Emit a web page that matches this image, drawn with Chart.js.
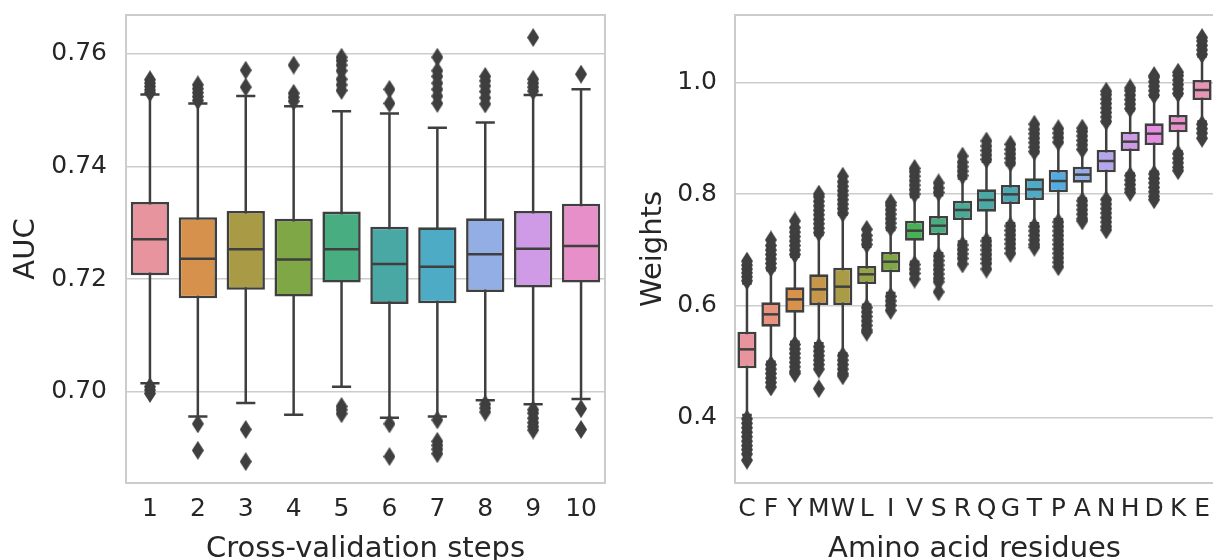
<!DOCTYPE html>
<html>
<head>
<meta charset="utf-8">
<title>AUC and residue weights</title>
<script src="https://cdn.jsdelivr.net/npm/chart.js@4.4.1/dist/chart.umd.min.js"></script>
<style>
  html, body { margin: 0; padding: 0; background: #fff; width: 1213px; height: 560px; overflow: hidden; }
  canvas { position: absolute; top: 0; }
  #aucChart { left: 0; }
  #weightChart { left: 620px; }
</style>
</head>
<body>
<canvas id="aucChart" width="620" height="560"></canvas>
<canvas id="weightChart" width="620" height="560"></canvas>
<script>
// ---- cross-validation AUC ----
const cvSteps = ['1', '2', '3', '4', '5', '6', '7', '8', '9', '10'];
const aucQ1     = [0.7207, 0.7166, 0.7181, 0.7169, 0.7194, 0.7156, 0.7157, 0.7177, 0.7185, 0.7194];
const aucMedian = [0.7271, 0.7236, 0.7253, 0.7235, 0.7253, 0.7227, 0.7222, 0.7244, 0.7254, 0.7259];
const aucQ3     = [0.7337, 0.7310, 0.7321, 0.7307, 0.7320, 0.7293, 0.7292, 0.7308, 0.7321, 0.7334];
const aucLow    = [0.7015, 0.6956, 0.6980, 0.6959, 0.7009, 0.6954, 0.6956, 0.6985, 0.6978, 0.6987];
const aucHigh   = [0.7528, 0.7512, 0.7525, 0.7507, 0.7498, 0.7494, 0.7469, 0.7478, 0.7527, 0.7537];
const aucOutliers = [
  [0.7554, 0.7548, 0.7542, 0.7536, 0.7531, 0.7009, 0.7003, 0.6997],
  [0.7545, 0.7538, 0.7531, 0.7524, 0.7517, 0.6943, 0.6896],
  [0.7571, 0.7541, 0.6933, 0.6876],
  [0.7580, 0.7530, 0.7523, 0.7516],
  [0.7594, 0.7588, 0.7580, 0.7570, 0.7555, 0.7545, 0.7535, 0.6974, 0.6968, 0.6961],
  [0.7537, 0.7512, 0.6943, 0.6885],
  [0.7594, 0.7570, 0.7560, 0.7548, 0.7537, 0.7525, 0.7512, 0.6950, 0.6912, 0.6905, 0.6898, 0.6890],
  [0.7560, 0.7552, 0.7543, 0.7533, 0.7522, 0.7511, 0.6978, 0.6971, 0.6964],
  [0.7629, 0.7555, 0.7548, 0.7541, 0.7534, 0.6968, 0.6962, 0.6953, 0.6945, 0.6938, 0.6932],
  [0.7564, 0.6970, 0.6933]
];
const aucTicks = [0.70, 0.72, 0.74, 0.76];
const cvColors = ['#e8949f', '#d6914c', '#a99b45', '#7fa745', '#48ad80',
                  '#4aa8a4', '#4dabc5', '#93aee4', '#cf9ae6', '#e78fc9'];

// ---- amino acid weights ----
const residues = ['C', 'F', 'Y', 'M', 'W', 'L', 'I', 'V', 'S', 'R',
                  'Q', 'G', 'T', 'P', 'A', 'N', 'H', 'D', 'K', 'E'];
const wQ1     = [0.4884, 0.5628, 0.5879, 0.6016, 0.6016, 0.6392, 0.6600, 0.7167, 0.7262, 0.7537,
                 0.7686, 0.7823, 0.7894, 0.8032, 0.8205, 0.8389, 0.8771, 0.8878, 0.9105, 0.9683];
const wMedian = [0.5223, 0.5849, 0.6117, 0.6296, 0.6344, 0.6565, 0.6791, 0.7346, 0.7435, 0.7716,
                 0.7894, 0.7996, 0.8085, 0.8234, 0.8348, 0.8592, 0.8938, 0.9081, 0.9266, 0.9862];
const wQ3     = [0.5539, 0.6064, 0.6332, 0.6565, 0.6684, 0.6714, 0.6964, 0.7525, 0.7608, 0.7883,
                 0.8085, 0.8163, 0.8282, 0.8431, 0.8491, 0.8789, 0.9117, 0.9266, 0.9415, 1.0041];
const wLow    = [0.405, 0.500, 0.536, 0.533, 0.515, 0.602, 0.623, 0.679, 0.694, 0.715,
                 0.721, 0.748, 0.748, 0.755, 0.792, 0.792, 0.837, 0.840, 0.876, 0.930];
const wHigh   = [0.640, 0.664, 0.688, 0.727, 0.763, 0.706, 0.736, 0.795, 0.798, 0.828,
                 0.858, 0.852, 0.873, 0.891, 0.879, 0.927, 0.950, 0.974, 0.977, 1.046];
const wOutliers = [
  [0.645, 0.652, 0.659, 0.666, 0.673, 0.680,
   0.398, 0.390, 0.382, 0.374, 0.366, 0.358, 0.350, 0.343, 0.335, 0.324],
  [0.668, 0.676, 0.684, 0.692, 0.700, 0.708, 0.718, 0.495, 0.487, 0.479, 0.471, 0.463, 0.455],
  [0.692, 0.700, 0.708, 0.716, 0.724, 0.732, 0.740, 0.752,
   0.531, 0.523, 0.515, 0.507, 0.499, 0.491, 0.483, 0.479],
  [0.731, 0.739, 0.747, 0.755, 0.763, 0.771, 0.779, 0.787, 0.795, 0.800,
   0.527, 0.519, 0.511, 0.503, 0.495, 0.487, 0.452],
  [0.766, 0.774, 0.782, 0.790, 0.798, 0.806, 0.814, 0.822, 0.832,
   0.511, 0.503, 0.495, 0.487, 0.479, 0.475],
  [0.710, 0.718, 0.726, 0.737, 0.597, 0.589, 0.581, 0.573, 0.565, 0.557, 0.553],
  [0.740, 0.748, 0.756, 0.764, 0.772, 0.780, 0.785, 0.617, 0.609, 0.601, 0.592],
  [0.800, 0.808, 0.816, 0.824, 0.832, 0.840, 0.846, 0.674, 0.666, 0.658, 0.648],
  [0.803, 0.811, 0.820, 0.689, 0.681, 0.673, 0.665, 0.657, 0.649, 0.643, 0.625],
  [0.833, 0.841, 0.849, 0.857, 0.868, 0.709, 0.701, 0.693, 0.685, 0.675],
  [0.862, 0.870, 0.878, 0.886, 0.895, 0.716, 0.708, 0.700, 0.692, 0.684, 0.676, 0.666],
  [0.856, 0.864, 0.872, 0.880, 0.889, 0.743, 0.735, 0.727, 0.719, 0.711, 0.703, 0.694],
  [0.876, 0.884, 0.892, 0.900, 0.908, 0.916, 0.925, 0.742, 0.734, 0.726, 0.718, 0.710, 0.705],
  [0.893, 0.901, 0.909, 0.917,
   0.750, 0.742, 0.734, 0.726, 0.718, 0.710, 0.702, 0.694, 0.686, 0.678, 0.670],
  [0.880, 0.888, 0.896, 0.904, 0.912, 0.918, 0.788, 0.780, 0.772, 0.764, 0.756, 0.752],
  [0.930, 0.938, 0.946, 0.954, 0.962, 0.970, 0.978, 0.984,
   0.790, 0.782, 0.774, 0.766, 0.758, 0.750, 0.742, 0.736],
  [0.953, 0.961, 0.969, 0.977, 0.985, 0.990, 0.833, 0.825, 0.817, 0.809, 0.803],
  [0.977, 0.985, 0.993, 1.001, 1.009, 1.012, 0.836, 0.828, 0.820, 0.812, 0.804, 0.796, 0.790],
  [0.980, 0.988, 0.996, 1.004, 1.012, 1.018, 0.872, 0.864, 0.856, 0.848, 0.842],
  [1.050, 1.058, 1.066, 1.074, 1.080, 0.925, 0.917, 0.909, 0.900]
];
const weightTicks = [0.4, 0.6, 0.8, 1.0];
const residueColors = ['#e8949f', '#e8937f', '#d8924c', '#c5974a', '#aa9c46',
                       '#98a345', '#7ea845', '#48b055', '#48ae80', '#49ab96',
                       '#4aa9a6', '#4ba9b4', '#4dabc6', '#52ace0', '#92aee4',
                       '#b4a5ec', '#cd9ae6', '#e58de2', '#e890c9', '#e894b4'];

const FONT = 'DejaVu Sans';
const TEXT = '#262626';
const EDGE = '#3f3f3f';
const GRID = '#cccccc';

// thin diamond used for the flier markers
const flier = document.createElement('canvas');
flier.width = 12;
flier.height = 19;
(function () {
  const c = flier.getContext('2d');
  c.fillStyle = EDGE;
  c.beginPath();
  c.moveTo(6, 0);
  c.lineTo(12, 9.5);
  c.lineTo(6, 19);
  c.lineTo(0, 9.5);
  c.closePath();
  c.fill();
})();

// whiskers, caps, medians and the axes frame
function boxParts(lows, highs, medians) {
  return {
    id: 'boxParts',
    beforeDatasetsDraw(chart) {
      const { ctx, chartArea, scales } = chart;
      const y = scales.y;
      ctx.save();
      ctx.strokeStyle = GRID;
      ctx.lineWidth = 2;
      ctx.strokeRect(chartArea.left, chartArea.top, chartArea.width, chartArea.height);
      ctx.strokeStyle = EDGE;
      ctx.lineWidth = 2.5;
      const boxes = chart.getDatasetMeta(1).data;
      boxes.forEach((el, i) => {
        const cx = el.x, cap = el.width / 4;
        const yl = y.getPixelForValue(lows[i]);
        const yh = y.getPixelForValue(highs[i]);
        ctx.beginPath();
        ctx.moveTo(cx, yh); ctx.lineTo(cx, yl);
        ctx.moveTo(cx - cap, yh); ctx.lineTo(cx + cap, yh);
        ctx.moveTo(cx - cap, yl); ctx.lineTo(cx + cap, yl);
        ctx.stroke();
      });
      ctx.restore();
    },
    afterDatasetsDraw(chart) {
      const { ctx, scales } = chart;
      const y = scales.y;
      ctx.save();
      ctx.strokeStyle = EDGE;
      ctx.lineWidth = 2.5;
      chart.getDatasetMeta(1).data.forEach((el, i) => {
        const ym = y.getPixelForValue(medians[i]);
        ctx.beginPath();
        ctx.moveTo(el.x - el.width / 2 + 1, ym);
        ctx.lineTo(el.x + el.width / 2 - 1, ym);
        ctx.stroke();
      });
      ctx.restore();
    }
  };
}

function makeBoxChart(canvasId, cfg) {
  const fliers = [];
  cfg.outliers.forEach((vals, i) => vals.forEach(v => fliers.push({ x: cfg.labels[i], y: v })));
  return new Chart(document.getElementById(canvasId), {
    type: 'bar',
    data: {
      labels: cfg.labels,
      datasets: [
        {
          type: 'scatter',
          data: fliers,
          pointStyle: flier,
          pointRadius: 5,
          pointHoverRadius: 5
        },
        {
          data: cfg.q1.map((q, i) => [q, cfg.q3[i]]),
          backgroundColor: cfg.colors,
          borderColor: EDGE,
          borderWidth: 2.6,
          borderSkipped: false,
          barPercentage: 0.8,
          categoryPercentage: 1.0
        }
      ]
    },
    options: {
      responsive: false,
      animation: false,
      events: [],
      layout: { padding: cfg.padding },
      plugins: { legend: { display: false }, tooltip: { enabled: false } },
      scales: {
        x: {
          type: 'category',
          offset: true,
          grid: { display: false, drawTicks: false },
          border: { display: false },
          ticks: { color: TEXT, font: { family: FONT, size: 25 }, padding: 11,
                   maxRotation: 0, autoSkip: false },
          title: { display: true, text: cfg.xTitle, color: TEXT,
                   font: { family: FONT, size: 29, lineHeight: 1 }, padding: { top: 0, bottom: -4 } },
          afterFit: s => { s.height = 77; s.paddingLeft = 0; s.paddingRight = 0; }
        },
        y: {
          min: cfg.min,
          max: cfg.max,
          afterBuildTicks: s => { s.ticks = cfg.ticks.map(v => ({ value: v })); },
          grid: { color: GRID, lineWidth: 1.6, drawTicks: false },
          border: { display: false },
          ticks: { color: TEXT, font: { family: FONT, size: 25 }, padding: cfg.tickPad,
                   callback: v => v.toFixed(cfg.digits) },
          title: { display: true, text: cfg.yTitle, color: TEXT,
                   font: { family: FONT, size: 29, lineHeight: 1 }, padding: { top: cfg.titlePad, bottom: 0 } },
          afterFit: s => { s.width = cfg.axisWidth; s.paddingTop = 0; s.paddingBottom = 0; }
        }
      }
    },
    plugins: [boxParts(cfg.low, cfg.high, cfg.median)]
  });
}

makeBoxChart('aucChart', {
  labels: cvSteps, q1: aucQ1, q3: aucQ3, median: aucMedian, low: aucLow, high: aucHigh,
  outliers: aucOutliers, colors: cvColors, ticks: aucTicks, digits: 2,
  min: 0.6838, max: 0.7669,
  xTitle: 'Cross-validation steps', yTitle: 'AUC',
  axisWidth: 126, tickPad: 19, titlePad: 12,
  padding: { left: 0, right: 15, top: 15, bottom: 0 }
});

makeBoxChart('weightChart', {
  labels: residues, q1: wQ1, q3: wQ3, median: wMedian, low: wLow, high: wHigh,
  outliers: wOutliers, colors: residueColors, ticks: weightTicks, digits: 1,
  min: 0.2832, max: 1.1204,
  xTitle: 'Amino acid residues', yTitle: 'Weights',
  axisWidth: 115, tickPad: 18, titlePad: 19,
  padding: { left: 0, right: 26, top: 15, bottom: 0 }
});
</script>
</body>
</html>
